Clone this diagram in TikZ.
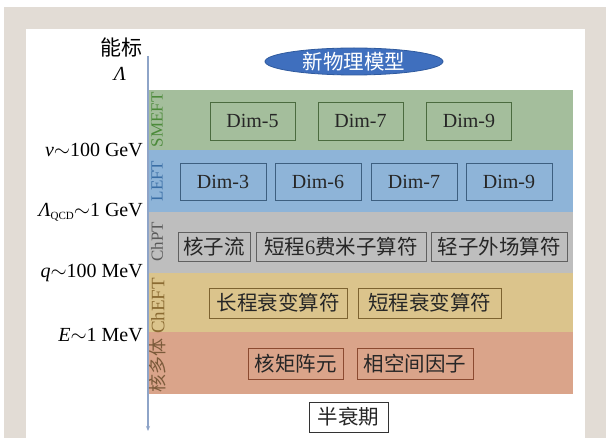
\documentclass[tikz,border=0pt]{standalone}
\usepackage{fontspec}
\setmainfont{Liberation Serif}
\newfontfamily\cjk{Noto Sans CJK SC}
\usetikzlibrary{arrows.meta,shapes.geometric}
\definecolor{beige}{HTML}{E2DCD5}
\definecolor{bgreen}{HTML}{A4BE9C}
\definecolor{bblue}{HTML}{8EB4D8}
\definecolor{bgray}{HTML}{BEBEBE}
\definecolor{btan}{HTML}{DBC48C}
\definecolor{bsalmon}{HTML}{DAA48A}
\definecolor{lgreen}{HTML}{4C8A3A}
\definecolor{lblue}{HTML}{3A6EA5}
\definecolor{lgray}{HTML}{5A5A5A}
\definecolor{ltan}{HTML}{8B6B32}
\definecolor{lsalmon}{HTML}{7B5A3A}
\definecolor{kgreen}{HTML}{4B6B3F}
\definecolor{kblue}{HTML}{3D5F80}
\definecolor{kgray}{HTML}{606060}
\definecolor{ktan}{HTML}{7D6330}
\definecolor{ksalmon}{HTML}{8B4A30}
\definecolor{ellblue}{HTML}{3F6FBE}
\definecolor{ellrim}{HTML}{2F5A9E}
\definecolor{axiscol}{HTML}{8EA4C8}
\begin{document}
\begin{tikzpicture}[x=1pt,y=-1pt,
  opbox/.style={draw, line width=0.9pt, inner sep=0pt, text=black!85},
  dimbox/.style={opbox, minimum width=86pt, minimum height=38pt, font=\fontsize{20}{24}\selectfont},
  cnbox/.style={opbox, minimum height=30pt, font=\cjk\fontsize{20.5}{24}\selectfont},
  bandlabel/.style={rotate=90, inner sep=0pt, font=\fontsize{17}{20}\selectfont},
  elabel/.style={anchor=east, inner sep=0pt, font=\fontsize{20}{24}\selectfont}]
\useasboundingbox (0,0) rectangle (606,438);
\fill[white] (0,0) rectangle (606,438);
\fill[beige] (4,7) rectangle (606,438);
\fill[white] (26,29) rectangle (585,438);
% bands
\fill[bgreen] (148,90) rectangle (573,150);
\fill[bblue] (148,150) rectangle (573,212);
\fill[bgray] (148,212) rectangle (573,273);
\fill[btan] (148,273) rectangle (573,332);
\fill[bsalmon] (148,332) rectangle (573,394);
% axis
\coordinate (axtop) at (148,56);
\coordinate (axbot) at (148,431);
\draw[axiscol, line width=1.1pt, -{Stealth[length=5pt,width=4pt]}] (axtop) -- (axbot);
\node[inner sep=0pt, font=\cjk\fontsize{21}{24}\selectfont] (nb) at (121,47) {能标};
\node[inner sep=0pt, font=\fontsize{20}{24}\selectfont] (lam) at (120,74) {\textit{Λ}};
% ellipse
\node[ellipse, fill=ellblue, draw=ellrim, line width=0.8pt, minimum width=178pt, minimum height=27pt, inner sep=0pt,
  text=white, font=\cjk\fontsize{20.5}{24}\selectfont] (np) at (354,61.5) {新物理模型};
% energy labels
\node[elabel] (e1) at (143,150) {\textit{v}$\sim$100 GeV};
\node[elabel] (e2) at (143,212) {\textit{Λ}\raisebox{-3pt}{\fontsize{11}{12}\selectfont QCD}$\sim$1 GeV};
\node[elabel] (e3) at (143,273) {\textit{q}$\sim$100 MeV};
\node[elabel] (e4) at (143,335) {\textit{E}$\sim$1 MeV};
% band labels
\node[bandlabel, text=lgreen] (l1) at (157,120) {SMEFT};
\node[bandlabel, text=lblue] (l2) at (157,181) {LEFT};
\node[bandlabel, text=lgray] (l3) at (157,242) {ChPT};
\node[bandlabel, text=ltan, font=\fontsize{19}{22}\selectfont] (l4) at (158,306) {ChEFT};
\node[bandlabel, text=lsalmon, font=\cjk\fontsize{18}{20}\selectfont] (l5) at (158,366) {核多体};
% SMEFT boxes
\node[dimbox, draw=kgreen, minimum width=85pt] (s5) at (252.5,121) {Dim-5};
\node[dimbox, draw=kgreen, minimum width=85pt] (s7) at (360.5,121) {Dim-7};
\node[dimbox, draw=kgreen, minimum width=85pt] (s9) at (469,121) {Dim-9};
% LEFT boxes
\node[dimbox, draw=kblue, minimum height=37pt] (f3) at (223,181.5) {Dim-3};
\node[dimbox, draw=kblue, minimum height=37pt] (f6) at (318,181.5) {Dim-6};
\node[dimbox, draw=kblue, minimum height=37pt] (f7) at (414,181.5) {Dim-7};
\node[dimbox, draw=kblue, minimum height=37pt] (f9) at (509,181.5) {Dim-9};
% ChPT boxes
\node[cnbox, draw=kgray, minimum width=72pt, minimum height=29pt] (c1) at (214,246.5) {核子流};
\node[cnbox, draw=kgray, minimum width=170pt, minimum height=29pt] (c2) at (341,246.5) {短程{\rmfamily 6}费米子算符};
\node[cnbox, draw=kgray, minimum width=136pt, minimum height=29pt] (c3) at (499,246.5) {轻子外场算符};
% ChEFT boxes
\node[cnbox, draw=ktan, minimum width=138pt] (t1) at (278,303) {长程衰变算符};
\node[cnbox, draw=ktan, minimum width=143pt] (t2) at (429.5,303) {短程衰变算符};
% nuclear many-body boxes
\node[cnbox, draw=ksalmon, minimum width=95pt, minimum height=31pt] (m1) at (295.5,363.5) {核矩阵元};
\node[cnbox, draw=ksalmon, minimum width=116pt, minimum height=31pt] (m2) at (415,363.5) {相空间因子};
% half-life
\node[cnbox, draw=black!80, fill=white, minimum width=79pt] (hl) at (348.5,417) {半衰期};
\end{tikzpicture}
\end{document}
